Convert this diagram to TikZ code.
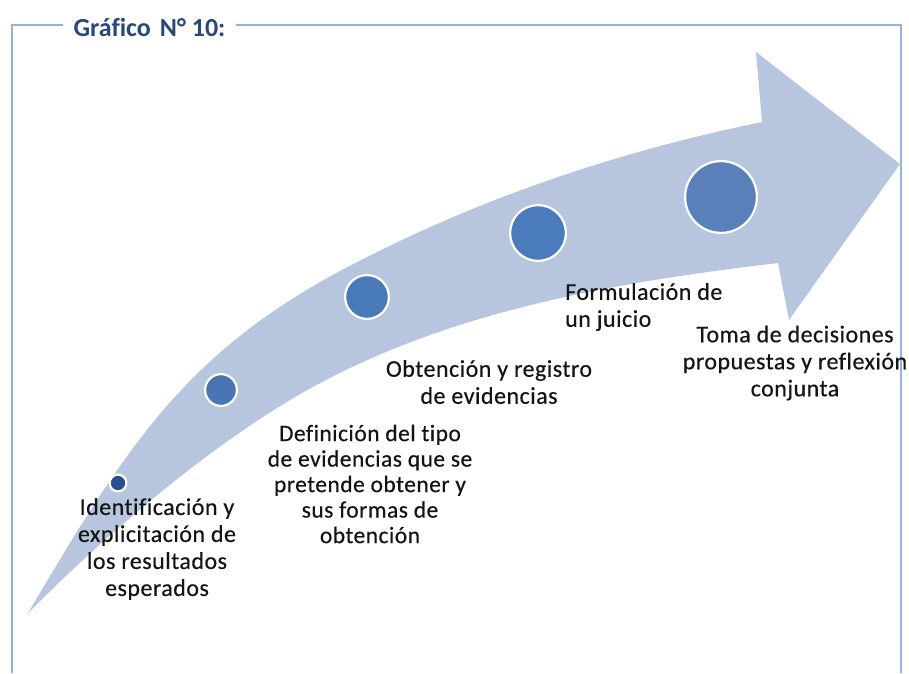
\documentclass[tikz,border=0pt]{standalone}
\usepackage{fontspec}
\setmainfont[Ligatures={NoCommon}]{Carlito}
\newfontfamily\bodyfont[LetterSpace=2,FakeBold=0.4,Ligatures={NoCommon}]{Carlito}
\usetikzlibrary{shadows}
\definecolor{arrowcol}{RGB}{183,198,222}
\definecolor{framecol}{RGB}{149,179,215}
\definecolor{titlecol}{RGB}{38,72,122}
\definecolor{txtcol}{RGB}{20,20,20}
\definecolor{cA}{RGB}{40,80,145}
\definecolor{cB}{RGB}{74,117,180}
\definecolor{cC}{RGB}{72,122,186}
\definecolor{cD}{RGB}{74,124,189}
\definecolor{cE}{RGB}{90,128,187}
\tikzset{
  dot/.style={circle, draw=white, line width=2.2pt, inner sep=0pt,
    drop shadow={opacity=0.25, shadow xshift=0.8pt, shadow yshift=-1.2pt}},
  lbl/.style={text=txtcol, font=\bodyfont\fontsize{24}{27}\selectfont, align=center, inner sep=0pt},
  framestyle/.style={draw=framecol, line width=1.6pt}
}
\begin{document}
\begin{tikzpicture}[x=1pt,y=-1pt]
\useasboundingbox (0,0) rectangle (909,673);
% frame
\node[text=titlecol, font=\bfseries\fontsize{26}{28}\selectfont, inner sep=0pt] (title) at (149.5,27) {Gráfico\hspace{9pt}N° 10:};
\draw[framestyle] ([xshift=-10pt]title.west |- 0,25) -- (12,25) -- (12,673);
\draw[framestyle] ([xshift=10pt]title.east |- 0,25) -- (901,25) -- (901,673);
% arrow
\fill[arrowcol] (28,613) .. controls (130,441) and (188,346) .. (367,257)
  .. controls (492,194) and (625,150) .. (762,122)
  -- (756,52) -- (900,164) -- (789,320) -- (778,263)
  .. controls (609,283) and (436,313) .. (290,400)
  .. controls (196,457) and (106,535) .. (28,613) -- cycle;
% circles
\node[dot, fill=cA, minimum size=16.8pt] (c1) at (118,483) {};
\node[dot, fill=cB, minimum size=31.8pt] (c2) at (221,390) {};
\node[dot, fill=cC, minimum size=43.8pt] (c3) at (367,297) {};
\node[dot, fill=cD, minimum size=55.8pt] (c4) at (538,233) {};
\node[dot, fill=cE, minimum size=71.8pt] (c5) at (721,197) {};
% labels
\node[lbl] (t1) at (157,549) {Identificación y\\explicitación de\\los resultados\\esperados};
\node[lbl, font=\bodyfont\fontsize{23.5}{25.5}\selectfont] (t2) at (370,484) {Definición del tipo\\de evidencias que se\\pretende obtener y\\sus formas de\\obtención};
\node[lbl] (t3) at (489,382) {Obtención y registro\\de evidencias};
\node[lbl, align=left, anchor=west] (t4) at (565,307) {Formulación de\\un juicio};
\node[lbl] (t5) at (795,363) {Toma de decisiones\\propuestas y reflexión\\conjunta};
\end{tikzpicture}
\end{document}
